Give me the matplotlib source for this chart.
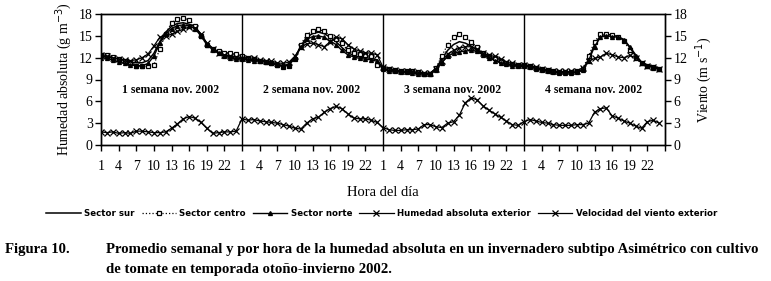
import matplotlib
matplotlib.use("Agg")
import matplotlib.pyplot as plt
import numpy as np

plt.rcParams['font.family'] = ['Liberation Serif', 'DejaVu Serif']

# hourly weekly means, four weeks of November 2002 (hours 1..24 each)
sur = [12.2, 12.1, 12.0, 11.8, 11.6, 11.4, 11.3, 11.3, 11.6, 12.6, 14.2, 15.5, 16.3, 16.7, 16.8, 16.6, 16.3, 15.2, 14.0, 13.3, 12.8, 12.4, 12.1, 11.9,
       11.9, 11.8, 11.7, 11.6, 11.5, 11.3, 11.1, 10.9, 11.1, 12.0, 13.6, 14.8, 15.3, 15.5, 15.3, 14.8, 14.2, 13.4, 12.7, 12.3, 12.1, 12.0, 11.9, 11.7,
       10.5, 10.3, 10.2, 10.1, 10.0, 10.0, 9.9, 9.8, 9.8, 10.5, 11.8, 13.0, 13.8, 14.2, 14.0, 13.6, 13.0, 12.4, 12.0, 11.7, 11.4, 11.2, 11.0, 10.9,
       10.9, 10.8, 10.6, 10.4, 10.2, 10.1, 10.0, 10.0, 10.0, 10.0, 10.3, 11.8, 13.8, 15.0, 15.2, 15.1, 14.9, 14.5, 13.5, 12.4, 11.4, 11.0, 10.8, 10.6]
centro = [12.4, 12.3, 12.1, 11.8, 11.5, 11.2, 10.9, 10.8, 10.8, 11.0, 13.2, 15.3, 16.8, 17.3, 17.4, 17.2, 16.4, 15.0, 13.8, 13.2, 12.9, 12.7, 12.6, 12.5,
          12.2, 12.0, 11.8, 11.6, 11.4, 11.2, 11.0, 10.7, 10.9, 11.8, 13.8, 15.1, 15.7, 15.9, 15.6, 15.0, 14.6, 14.0, 13.0, 12.6, 12.5, 12.3, 12.2, 11.0,
          10.6, 10.4, 10.3, 10.2, 10.2, 10.1, 10.0, 9.8, 9.7, 10.6, 12.2, 13.8, 14.8, 15.3, 14.8, 14.2, 13.4, 12.6, 12.2, 12.0, 11.6, 11.3, 11.1, 11.0,
          11.0, 10.8, 10.6, 10.5, 10.3, 10.1, 10.0, 10.0, 10.0, 10.1, 10.5, 12.2, 14.2, 15.2, 15.3, 15.1, 14.9, 14.3, 13.0, 12.0, 11.2, 10.9, 10.7, 10.5]
norte = [12.0, 11.9, 11.7, 11.4, 11.2, 11.0, 10.9, 10.9, 11.2, 12.2, 14.0, 15.3, 16.0, 16.4, 16.5, 16.4, 16.0, 15.0, 13.8, 13.1, 12.6, 12.2, 12.0, 11.8,
         11.8, 11.7, 11.6, 11.5, 11.4, 11.2, 11.0, 10.9, 11.0, 11.9, 13.4, 14.5, 14.9, 15.0, 14.8, 14.3, 13.8, 13.0, 12.4, 12.1, 11.9, 11.8, 11.7, 11.5,
         10.4, 10.2, 10.1, 10.0, 10.0, 9.9, 9.8, 9.7, 9.7, 10.3, 11.3, 12.2, 12.6, 12.8, 12.9, 13.0, 12.9, 12.4, 12.0, 11.6, 11.3, 11.1, 10.9, 10.8,
         10.8, 10.7, 10.5, 10.3, 10.1, 10.0, 9.9, 9.9, 9.9, 10.0, 10.3, 11.6, 13.5, 14.8, 15.0, 14.9, 14.8, 14.4, 13.4, 12.2, 11.3, 10.9, 10.6, 10.4]
exterior = [12.3, 12.2, 12.0, 11.8, 11.7, 11.6, 11.7, 12.0, 12.5, 13.6, 14.8, 15.0, 15.2, 15.6, 15.9, 16.2, 16.1, 15.3, 14.0, 13.2, 12.7, 12.4, 12.2, 12.1,
            12.0, 12.0, 11.9, 11.7, 11.6, 11.5, 11.3, 11.2, 11.4, 12.2, 13.4, 13.9, 14.0, 13.8, 13.5, 14.2, 14.8, 14.6, 13.8, 13.2, 12.9, 12.7, 12.6, 12.4,
            10.7, 10.5, 10.3, 10.2, 10.1, 10.1, 10.0, 9.9, 9.9, 10.5, 11.6, 12.5, 13.0, 13.3, 13.5, 13.5, 13.2, 12.6, 12.3, 12.2, 11.8, 11.4, 11.2, 11.0,
            11.0, 10.9, 10.7, 10.5, 10.3, 10.2, 10.1, 10.1, 10.1, 10.2, 10.6, 11.5, 11.9, 12.1, 12.6, 12.4, 12.1, 12.0, 12.3, 12.0, 11.3, 10.9, 10.7, 10.5]
viento = [1.8, 1.7, 1.8, 1.6, 1.7, 1.6, 1.9, 1.9, 1.8, 1.7, 1.7, 1.8, 2.3, 2.9, 3.6, 3.9, 3.7, 3.1, 2.3, 1.6, 1.7, 1.8, 1.8, 1.9,
          3.6, 3.4, 3.5, 3.3, 3.2, 3.1, 3.0, 2.8, 2.6, 2.3, 2.2, 3.0, 3.6, 3.8, 4.5, 5.0, 5.3, 5.0, 4.3, 3.7, 3.6, 3.6, 3.4, 3.1,
          2.4, 2.1, 2.0, 2.0, 2.1, 2.1, 2.2, 2.8, 2.8, 2.5, 2.4, 3.0, 3.2, 4.1, 5.8, 6.5, 6.2, 5.4, 4.8, 4.3, 3.8, 3.3, 2.8, 2.7,
          3.2, 3.5, 3.3, 3.1, 3.0, 2.8, 2.7, 2.7, 2.7, 2.8, 2.8, 3.0, 4.5, 5.0, 5.1, 4.0, 3.7, 3.3, 3.0, 2.6, 2.3, 3.2, 3.4, 3.0]

hour_labels = ['1', '4', '7', '10', '13', '16', '19', '22']
week_labels = ['1 semana nov. 2002', '2 semana nov. 2002', '3 semana nov. 2002', '4 semana nov. 2002']
y_ticks = [0, 3, 6, 9, 12, 15, 18]

x = np.arange(len(sur))

fig = plt.figure(figsize=(7.71, 2.81), dpi=100)
ax = fig.add_axes([101 / 771, 1 - 145 / 281, 564 / 771, 131 / 281])
ax2 = ax.twinx()

l1, = ax.plot(x, sur, color='black', lw=1.1)
l2, = ax.plot(x, centro, color='black', lw=0.9, ls=':', marker='s', ms=3.2, mfc='white', mew=0.9)
l3, = ax.plot(x, norte, color='black', lw=1.0, marker='^', ms=2.8)
l4, = ax.plot(x, exterior, color='black', lw=0.9, marker='x', ms=3.8, mew=0.9)
l5, = ax2.plot(x, viento, color='black', lw=0.9, marker='x', ms=3.8, mew=0.9)

for k in range(1, 4):
    ax.axvline(24 * k, color='black', lw=1)
for k, lab in enumerate(week_labels):
    ax.text(24 * k + 11.8, 7.5, lab, ha='center', va='center', fontsize=8.5, fontweight='bold')

ticks = np.arange(0, 97, 3)
ax.set_xticks(ticks)
ax.set_xticklabels(hour_labels * 4 + [''], fontsize=10)
ax.set_xlim(0, 96)
for a in (ax, ax2):
    a.set_ylim(0, 18)
    a.set_yticks(y_ticks)
    a.tick_params(direction='out', length=4, width=1, labelsize=10, pad=2)
ax.tick_params(axis='x', pad=7)
for a in (ax, ax2):
    for s in a.spines.values():
        s.set_linewidth(1)

ax.set_ylabel('Humedad absoluta (g m$^{-3}$)', fontsize=10, labelpad=3)
ax2.set_ylabel('Viento (m s$^{-1}$)', fontsize=10, labelpad=4)
ax.set_xlabel('Hora del día', fontsize=10.5, labelpad=9)

fig.legend([l1, l2, l3, l4, l5],
           ['Sector sur', 'Sector centro', 'Sector norte', 'Humedad absoluta exterior', 'Velocidad del viento exterior'],
           loc='center', bbox_to_anchor=(0.495, 1 - 214 / 281), ncol=5, frameon=False,
           prop={'family': 'DejaVu Sans', 'size': 6.2, 'weight': 'bold'},
           handlelength=4, columnspacing=0.8, handletextpad=0.4)

fig.text(5 / 771, 1 - 249 / 281, 'Figura 10.', fontsize=10.6, fontweight='bold', va='center')
fig.text(106 / 771, 1 - 249 / 281,
         'Promedio semanal y por hora de la humedad absoluta en un invernadero subtipo Asimétrico con cultivo',
         fontsize=10.6, fontweight='bold', va='center')
fig.text(106 / 771, 1 - 269 / 281, 'de tomate en temporada otoño-invierno 2002.',
         fontsize=10.6, fontweight='bold', va='center')

fig.savefig('out.png', dpi=100)
